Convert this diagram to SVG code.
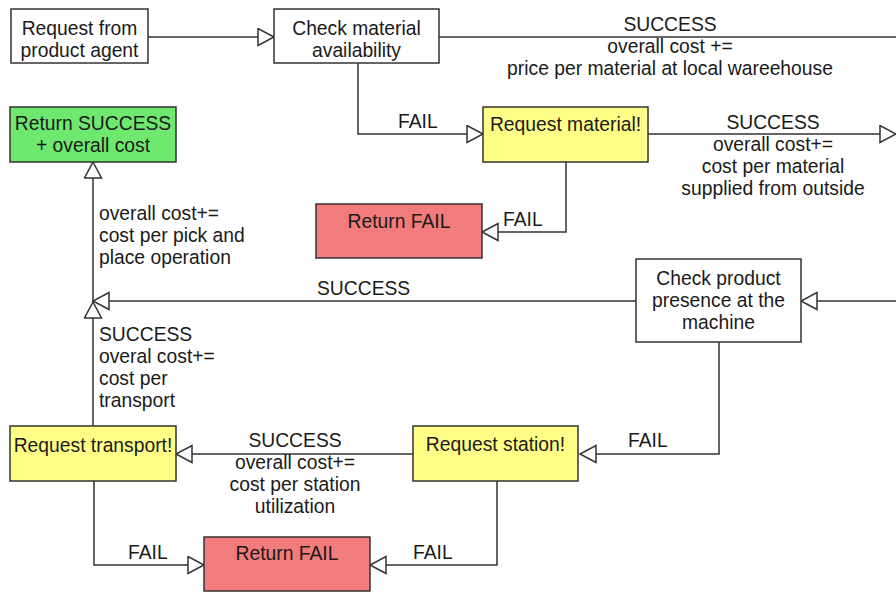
<svg xmlns="http://www.w3.org/2000/svg" width="896" height="592" viewBox="0 0 896 592">
  <style>
    .box { stroke: #333; stroke-width: 1.5; }
    .plain { fill: #ffffff; }
    .ok { fill: #6ee86e; }
    .act { fill: #ffff88; }
    .bad { fill: #f27b7b; }
    text { font-family: "Liberation Sans", Arial, sans-serif; font-size: 19.3px; fill: #1a1a1a; }
    .c { text-anchor: middle; }
    .edge { fill: none; stroke: #333; stroke-width: 1.5; }
  </style>
  <defs>
    <marker id="open" markerUnits="userSpaceOnUse" markerWidth="20" markerHeight="20" refX="17" refY="9.5" orient="auto">
      <path d="M1,1 L17,9.5 L1,18 Z" fill="#fff" stroke="#333" stroke-width="1.5"/>
    </marker>
  </defs>

  <rect width="896" height="592" fill="#fff"/>

  <!-- connectors -->
  <g id="connectors">
    <path class="edge" d="M148,37 H274" marker-end="url(#open)"/>
    <path class="edge" d="M439,37 H896"/>
    <path class="edge" d="M358,63 V134 H483" marker-end="url(#open)"/>
    <path class="edge" d="M648,134 H896" marker-end="url(#open)"/>
    <path class="edge" d="M566,162 V232 H482" marker-end="url(#open)"/>
    <path class="edge" d="M896,301 H801" marker-end="url(#open)"/>
    <path class="edge" d="M636,301 H93" marker-end="url(#open)"/>
    <path class="edge" d="M93,426 V302" marker-end="url(#open)"/>
    <path class="edge" d="M93,302 V162" marker-end="url(#open)"/>
    <path class="edge" d="M719,342 V454 H580" marker-end="url(#open)"/>
    <path class="edge" d="M413,454 H176" marker-end="url(#open)"/>
    <path class="edge" d="M94,481 V565 H204" marker-end="url(#open)"/>
    <path class="edge" d="M497,481 V565 H370" marker-end="url(#open)"/>

    <text class="c" x="670" y="31">SUCCESS</text>
    <text class="c" x="670" y="53">overall cost +=</text>
    <text class="c" x="670" y="75">price per material at local wareehouse</text>

    <text x="398" y="128">FAIL</text>

    <text class="c" x="773" y="129">SUCCESS</text>
    <text class="c" x="773" y="151">overall cost+=</text>
    <text class="c" x="773" y="173">cost per material</text>
    <text class="c" x="773" y="195">supplied from outside</text>

    <text x="503" y="226">FAIL</text>

    <text x="99" y="220">overall cost+=</text>
    <text x="99" y="242">cost per pick and</text>
    <text x="99" y="264">place operation</text>

    <text x="317" y="295">SUCCESS</text>

    <text x="99" y="341">SUCCESS</text>
    <text x="99" y="363">overal cost+=</text>
    <text x="99" y="385">cost per</text>
    <text x="99" y="407">transport</text>

    <text x="628" y="447">FAIL</text>

    <text class="c" x="295" y="447">SUCCESS</text>
    <text class="c" x="295" y="469">overall cost+=</text>
    <text class="c" x="295" y="491">cost per station</text>
    <text class="c" x="295" y="513">utilization</text>

    <text x="128" y="559">FAIL</text>
    <text x="413" y="559">FAIL</text>
  </g>

  <!-- nodes -->
  <g id="request-from-agent">
    <rect class="box plain" x="11" y="9" width="137" height="54"/>
    <text class="c" x="79.5" y="35">Request from</text>
    <text class="c" x="79.5" y="57">product agent</text>
  </g>
  <g id="check-material">
    <rect class="box plain" x="274" y="9" width="165" height="54"/>
    <text class="c" x="356.5" y="35">Check material</text>
    <text class="c" x="356.5" y="57">availability</text>
  </g>
  <g id="return-success">
    <rect class="box ok" x="10" y="107" width="166" height="55"/>
    <text class="c" x="93" y="130">Return SUCCESS</text>
    <text class="c" x="93" y="152">+ overall cost</text>
  </g>
  <g id="request-material">
    <rect class="box act" x="483" y="107" width="165" height="55"/>
    <text class="c" x="565.5" y="131">Request material!</text>
  </g>
  <g id="return-fail-material">
    <rect class="box bad" x="316" y="204" width="166" height="54"/>
    <text class="c" x="399" y="228">Return FAIL</text>
  </g>
  <g id="check-product">
    <rect class="box plain" x="636" y="259" width="165" height="83"/>
    <text class="c" x="718.5" y="285">Check product</text>
    <text class="c" x="718.5" y="307">presence at the</text>
    <text class="c" x="718.5" y="329">machine</text>
  </g>
  <g id="request-transport">
    <rect class="box act" x="10" y="426" width="166" height="55"/>
    <text class="c" x="93" y="452">Request transport!</text>
  </g>
  <g id="request-station">
    <rect class="box act" x="413" y="426" width="165" height="55"/>
    <text class="c" x="495.5" y="451">Request station!</text>
  </g>
  <g id="return-fail-bottom">
    <rect class="box bad" x="204" y="537" width="166" height="54"/>
    <text class="c" x="287" y="560">Return FAIL</text>
  </g>
</svg>
